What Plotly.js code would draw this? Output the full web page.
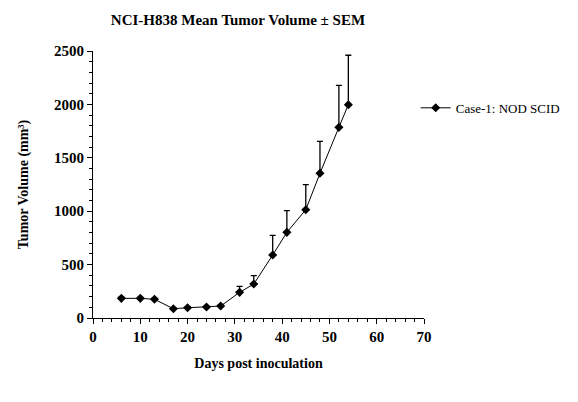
<!DOCTYPE html>
<html>
<head>
<meta charset="utf-8">
<script src="https://cdn.plot.ly/plotly-3.0.1.min.js"></script>
<style>
  html, body { margin: 0; padding: 0; background: #fff; }
  #chart { width: 578px; height: 402px; }
</style>
</head>
<body>
<div id="chart"></div>
<script>
// Mean tumor volume (mm³) by day post inoculation, with upward SEM bars
const days = [6, 10, 13, 17, 20, 24, 27, 31, 34, 38, 41, 45, 48, 52, 54];
const meanVolume = [184, 184, 175, 87, 96, 103, 112, 240, 318, 590, 802, 1014, 1355, 1785, 1997];
const sem = [12, 10, 10, 8, 8, 9, 10, 57, 78, 184, 203, 234, 299, 394, 463];
const seriesName = 'Case-1: NOD SCID';

const serif = 'Liberation Serif, Times New Roman, serif';

const trace = {
  x: days,
  y: meanVolume,
  name: seriesName,
  type: 'scatter',
  mode: 'lines+markers',
  line: { color: '#000', width: 1 },
  marker: { symbol: 'diamond', size: 7, color: '#000' },
  error_y: {
    type: 'data',
    symmetric: false,
    array: sem,
    arrayminus: sem.map(() => 0),
    color: '#000',
    thickness: 1.3,
    width: 3
  },
  showlegend: true
};

const layout = {
  width: 578,
  height: 402,
  margin: { l: 93, r: 154, t: 51, b: 84 },
  paper_bgcolor: '#fff',
  plot_bgcolor: '#fff',
  font: { family: serif, color: '#000', size: 13 },
  title: {
    text: '<b>NCI-H838 Mean Tumor Volume ± SEM</b>',
    font: { family: serif, size: 15, color: '#000' },
    x: 0.438, xref: 'paper', xanchor: 'center',
    y: 0.95, yref: 'container', yanchor: 'middle'
  },
  xaxis: {
    range: [0, 70],
    dtick: 10,
    showgrid: false,
    zeroline: false,
    showline: true,
    linecolor: '#000',
    linewidth: 1,
    ticks: 'outside',
    ticklen: 5,
    tickcolor: '#000',
    tickfont: { family: serif, size: 15, color: '#000', weight: 'bold' },
    minor: { dtick: 2, ticks: 'outside', ticklen: 3, tickcolor: '#000', showgrid: false },
    title: {
      text: '<b>Days post inoculation</b>',
      font: { family: serif, size: 14, color: '#000' },
      standoff: 14
    }
  },
  yaxis: {
    range: [0, 2500],
    dtick: 500,
    showgrid: false,
    zeroline: false,
    showline: true,
    linecolor: '#000',
    linewidth: 1,
    ticks: 'outside',
    ticklen: 5,
    tickcolor: '#000',
    tickfont: { family: serif, size: 15, color: '#000', weight: 'bold' },
    minor: { dtick: 100, ticks: 'outside', ticklen: 3, tickcolor: '#000', showgrid: false },
    title: {
      text: '<b>Tumor Volume (mm³)</b>',
      font: { family: serif, size: 14, color: '#000' },
      standoff: 22
    }
  },
  legend: {
    x: 0.975, xref: 'paper', xanchor: 'left',
    y: 0.787, yref: 'paper', yanchor: 'middle',
    itemwidth: 30,
    bgcolor: 'rgba(0,0,0,0)',
    font: { family: serif, size: 13, color: '#000' }
  }
};

Plotly.newPlot('chart', [trace], layout, { displayModeBar: false, staticPlot: true });
</script>
</body>
</html>
